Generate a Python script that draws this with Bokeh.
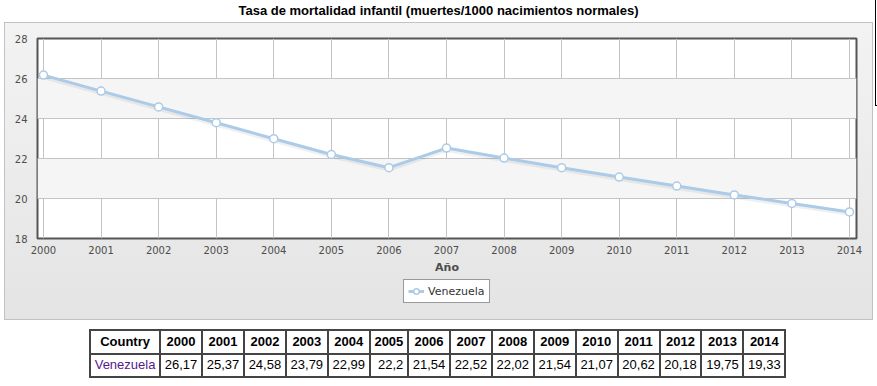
from bokeh.plotting import figure
from bokeh.models import Div, Legend, LegendItem, FixedTicker, Range1d
from bokeh.layouts import column
from bokeh.embed import file_html
from bokeh.resources import INLINE

title_text = "Tasa de mortalidad infantil (muertes/1000 nacimientos normales)"
x_label = "Año"
country = "Venezuela"
years = [2000, 2001, 2002, 2003, 2004, 2005, 2006, 2007, 2008, 2009, 2010, 2011, 2012, 2013, 2014]
values = [26.17, 25.37, 24.58, 23.79, 22.99, 22.2, 21.54, 22.52, 22.02, 21.54, 21.07, 20.62, 20.18, 19.75, 19.33]
y_ticks = [18, 20, 22, 24, 26, 28]

LINE_COLOR = "#abcbe9"
TICK_COLOR = "#4d4d4d"

edge_box = ("<div style='position:absolute;left:875px;top:-1px;width:4px;height:107px;"
            "border:1px solid #000;box-sizing:border-box;'></div>")
title_div = Div(
    text=f"<div style='padding-top:2px;text-align:center;width:877px;'>{title_text}</div>{edge_box}",
    width=877, height=22, margin=0,
    styles={"font-family": "'Liberation Sans', Arial, sans-serif", "font-size": "13px",
            "font-weight": "bold", "color": "#000", "overflow": "visible",
            "position": "relative", "z-index": "5"},
)

p = figure(
    width=867, height=253,
    x_range=(1999.896, 2014.122), y_range=(18, 28),
    output_backend="svg", toolbar_location=None,
    min_border_left=32, min_border_right=16, min_border_top=15, min_border_bottom=36,
    margin=0,
)
p.border_fill_alpha = 0
p.background_fill_color = "white"
p.outline_line_color = "#555555"
p.outline_line_width = 2

for ax in (p.xaxis, p.yaxis):
    ax.axis_line_color = None
    ax.major_tick_line_color = None
    ax.minor_tick_line_color = None
    ax.major_label_text_font = "DejaVu Sans"
    ax.major_label_text_font_size = "10px"
    ax.major_label_text_color = TICK_COLOR

p.xaxis.ticker = FixedTicker(ticks=years)
p.yaxis.ticker = FixedTicker(ticks=y_ticks)
p.xaxis.major_label_standoff = 1
p.yaxis.major_label_standoff = 4
p.xaxis.axis_label = x_label
p.xaxis.axis_label_text_font = "DejaVu Sans"
p.xaxis.axis_label_text_font_size = "11px"
p.xaxis.axis_label_text_font_style = "bold"
p.xaxis.axis_label_text_color = TICK_COLOR
p.xaxis.axis_label_standoff = 4

p.xgrid.ticker = FixedTicker(ticks=years)
p.ygrid.ticker = FixedTicker(ticks=y_ticks)
p.xgrid.grid_line_color = "#c4c4c4"
p.ygrid.grid_line_color = "#c4c4c4"
p.ygrid.band_fill_color = "#f5f5f5"
p.ygrid.band_fill_alpha = 1.0

shadow_y = [v - 0.07 for v in values]
p.line(years, shadow_y, line_color="black", line_alpha=0.06, line_width=5)
p.line(years, values, line_color=LINE_COLOR, line_width=3)
p.scatter(years, values, size=8, fill_color="white", line_color=LINE_COLOR, line_width=1.5)

# legend strip (its renderers reuse the series, which lies outside this strip's ranges)
lf = figure(
    width=867, height=43, x_range=Range1d(0, 1), y_range=Range1d(0, 1),
    output_backend="svg", toolbar_location=None, min_border=0,
    x_axis_type=None, y_axis_type=None, margin=0,
)
lf.border_fill_alpha = 0
lf.background_fill_alpha = 0
lf.outline_line_color = None
lf.xgrid.visible = False
lf.ygrid.visible = False
llr = lf.line(years, values, line_color=LINE_COLOR, line_width=3)
lsr = lf.scatter(years, values, size=8, fill_color="white", line_color=LINE_COLOR, line_width=1.5)
legend = Legend(
    items=[LegendItem(label=country, renderers=[llr, lsr])],
    location=(366, 16), orientation="horizontal",
    border_line_color="#333333", border_line_width=1,
    background_fill_color="white", background_fill_alpha=1,
    label_text_font="DejaVu Sans", label_text_font_size="11px", label_text_color="#333333",
    padding=4, margin=0, spacing=0, label_standoff=4,
    glyph_width=16, glyph_height=14, label_height=14,
)
lf.add_layout(legend)

panel = column(
    p, lf, spacing=0, margin=(0, 0, 0, 4),
    styles={"background": "linear-gradient(to bottom, #f3f3f3, #e4e4e4)",
            "border": "1px solid #c2c2c2"},
)

def fmt(v):
    return str(v).replace(".", ",")

cell = "border:2px solid #444;padding:1.5px 3.7px;"
header = "".join(f"<th style='{cell}'>{y}</th>" for y in years)
cells = "".join(f"<td style='{cell}text-align:right'>{fmt(v)}</td>" for v in values)
table_html = (
    "<table style=\"border-collapse:collapse;margin:9px 0 0 89px;"
    "font-family:'Liberation Sans',Arial,sans-serif;font-size:13px;color:#000;\">"
    f"<tr><th style='{cell}'>Country</th>{header}</tr>"
    f"<tr><td style='{cell}color:#551a8b;text-align:left'>{country}</td>{cells}</tr>"
    "</table>"
)
table_div = Div(text=table_html, width=877, height=60, margin=0)

layout = column(title_div, panel, table_div, spacing=0)

open("out.html", "w").write(file_html(layout, INLINE))
